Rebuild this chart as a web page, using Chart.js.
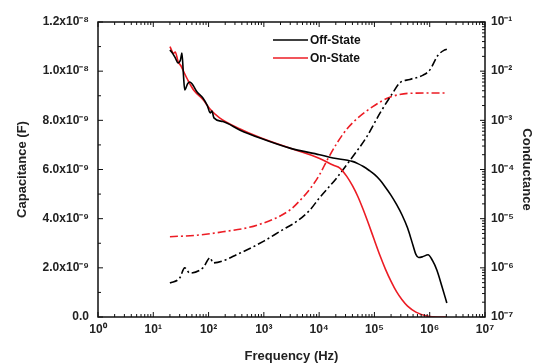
<!DOCTYPE html>
<html>
<head>
<meta charset="utf-8">
<script src="https://cdn.jsdelivr.net/npm/chart.js@4.4.1/dist/chart.umd.min.js"></script>
<style>
  html, body { margin: 0; padding: 0; background: #fff; }
  #wrap { width: 535px; height: 363px; }
</style>
</head>
<body>
<div id="wrap"><canvas id="cvChart"></canvas></div>
<script>
// capacitance (F) vs frequency (Hz)
const offCapFreq = [20, 22, 25, 28, 31, 33, 35, 37, 42, 46, 52, 62, 79, 95, 107, 115, 125, 182, 372, 850,
    2950, 10200, 17800, 39800, 50100, 63100, 79400, 100000, 126000, 158000, 200000, 251000, 316000, 398000,
    501000, 562000, 631000, 741000, 933000, 1120000, 1350000, 1660000, 2040000];
const offCap = [1.086e-8, 1.075e-8, 1.054e-8, 1.033e-8, 1.045e-8, 1.074e-8, 9.9e-9, 9.24e-9, 9.5e-9, 9.56e-9,
    9.44e-9, 9.15e-9, 8.91e-9, 8.6e-9, 8.3e-9, 8.38e-9, 8.1e-9, 7.95e-9, 7.6e-9, 7.28e-9,
    6.87e-9, 6.6e-9, 6.47e-9, 6.33e-9, 6.24e-9, 6.12e-9, 5.97e-9, 5.8e-9, 5.57e-9, 5.28e-9, 4.95e-9, 4.58e-9, 4.15e-9, 3.62e-9,
    2.9e-9, 2.55e-9, 2.42e-9, 2.45e-9, 2.53e-9, 2.3e-9, 1.9e-9, 1.25e-9, 5.7e-10];

const onCapFreq = [20, 21, 23, 25, 28, 32, 36, 43, 55, 79, 107, 158, 372, 850, 2950, 10200, 17800, 24000, 31600, 39800,
    50100, 63100, 79400, 100000, 126000, 158000, 200000, 251000, 316000, 398000, 562000, 891000, 1410000, 2040000];
const onCap = [1.10e-8, 1.09e-8, 1.072e-8, 1.078e-8, 1.04e-8, 1.02e-8, 9.95e-9, 9.6e-9, 9.2e-9, 8.85e-9,
    8.45e-9, 8.1e-9, 7.65e-9, 7.3e-9, 6.87e-9, 6.45e-9, 6.18e-9, 6.05e-9, 5.72e-9, 5.35e-9,
    4.9e-9, 4.35e-9, 3.75e-9, 3.12e-9, 2.5e-9, 1.95e-9, 1.45e-9, 1.03e-9, 7.0e-10, 4.4e-10, 2.0e-10, 4e-11, 0, 0];

// conductance vs frequency (Hz)
const offCondFreq = [20, 30, 37, 46, 79, 107, 120, 372, 1000, 2000, 4000, 6800, 10000, 20900, 36300,
    72400, 126000, 214000, 288000, 437000, 759000, 1000000, 1410000, 1860000, 2040000];
const offCond = [4.9e-7, 6.2e-7, 1.0e-6, 7.8e-7, 1.0e-6, 1.6e-6, 1.26e-6, 2.0e-6, 3.5e-6, 5.6e-6,
    8.9e-6, 1.5e-5, 2.6e-5, 6.8e-5, 1.55e-4, 4.6e-4, 1.4e-3, 3.6e-3, 5.8e-3, 6.8e-3,
    8.3e-3, 1.05e-2, 2.1e-2, 2.7e-2, 2.8e-2];

const onCondFreq = [20, 60, 182, 760, 2950, 4900, 6800, 10000, 14100, 20900, 31600, 47900, 93300, 190000, 437000, 1000000, 2040000];
const onCond = [4.3e-6, 4.6e-6, 5.4e-6, 7.4e-6, 1.5e-5, 2.6e-5, 4.0e-5, 7.6e-5, 1.58e-4, 3.4e-4, 6.6e-4, 1.07e-3, 1.9e-3, 2.95e-3, 3.55e-3, 3.6e-3, 3.6e-3];

const seriesNames = ['Off-State', 'On-State'];
const xTicks = [1, 10, 100, 1e3, 1e4, 1e5, 1e6, 1e7];
const y2Ticks = [1e-7, 1e-6, 1e-5, 1e-4, 1e-3, 1e-2, 1e-1];

const RED = 'rgb(236, 28, 36)';
const BLACK = '#000';

const SUP = { '0': '⁰', '1': '¹', '2': '²', '3': '³', '4': '⁴', '5': '⁵', '6': '⁶', '7': '⁷', '8': '⁸', '9': '⁹', '-': '⁻' };
const sup = s => String(s).split('').map(c => SUP[c] || c).join('');
const isPow10 = v => Math.abs(Math.log10(v) - Math.round(Math.log10(v))) < 1e-6;
const pow10Label = v => isPow10(v) ? '10' + sup(Math.round(Math.log10(v))) : '';

function capLabel(v) {
    if (Math.abs(v) < 1e-13) return '0.0';
    const e = Math.floor(Math.log10(v) + 1e-9);
    const m = v / Math.pow(10, e);
    return m.toFixed(1) + 'x10' + sup(e);
}

const pts = (xs, ys) => xs.map((x, i) => ({ x: x, y: ys[i] }));

Chart.defaults.font.family = 'Arial, "Liberation Sans", sans-serif';
Chart.defaults.color = '#222';

// inward ticks on all four sides plus the frame, and the small legend
const frameTicks = {
    id: 'frameTicks',
    afterDraw(chart) {
        const { ctx, chartArea: a, scales } = chart;
        ctx.save();
        ctx.strokeStyle = '#111';
        ctx.lineWidth = 1;
        ctx.beginPath();
        const logMarks = (sc, fn) => {
            const lo = Math.round(Math.log10(sc.min)), hi = Math.round(Math.log10(sc.max));
            for (let e = lo; e <= hi; e++) {
                for (let m = 1; m <= 9; m++) {
                    const v = m * Math.pow(10, e);
                    if (v > sc.max * 1.0001) break;
                    fn(sc.getPixelForValue(v), m === 1 ? 5 : 3);
                }
            }
        };
        logMarks(scales.x, (px, len) => {
            ctx.moveTo(px, a.bottom); ctx.lineTo(px, a.bottom - len);
            ctx.moveTo(px, a.top); ctx.lineTo(px, a.top + len);
        });
        logMarks(scales.y2, (py, len) => {
            ctx.moveTo(a.right, py); ctx.lineTo(a.right - len, py);
        });
        const sy = scales.y;
        for (let i = 0; i <= 12; i++) {
            const py = sy.getPixelForValue(sy.min + i * (sy.max - sy.min) / 12);
            const len = i % 2 === 0 ? 5 : 3;
            ctx.moveTo(a.left, py); ctx.lineTo(a.left + len, py);
        }
        ctx.stroke();
        ctx.lineWidth = 1.5;
        ctx.strokeRect(a.left, a.top, a.right - a.left, a.bottom - a.top);

        // legend
        const lx = a.left + 175, ly = a.top + 18;
        ctx.font = 'bold 12px Arial, "Liberation Sans", sans-serif';
        ctx.textBaseline = 'middle';
        chart.data.datasets.slice(0, 2).forEach((ds, i) => {
            const y = ly + i * 18;
            ctx.strokeStyle = ds.borderColor;
            ctx.lineWidth = 1.6;
            ctx.beginPath();
            ctx.moveTo(lx, y); ctx.lineTo(lx + 35, y);
            ctx.stroke();
            ctx.fillStyle = '#111';
            ctx.fillText(ds.label, lx + 37, y + 1);
        });
        ctx.restore();
    }
};

new Chart(document.getElementById('cvChart'), {
    type: 'line',
    data: {
        datasets: [
            { label: seriesNames[0], data: pts(offCapFreq, offCap), yAxisID: 'y', borderColor: BLACK, borderWidth: 1.6 },
            { label: seriesNames[1], data: pts(onCapFreq, onCap), yAxisID: 'y', borderColor: RED, borderWidth: 1.6 },
            { label: seriesNames[0] + ' G', data: pts(offCondFreq, offCond), yAxisID: 'y2', borderColor: BLACK, borderWidth: 1.6, borderDash: [8, 3, 2, 3] },
            { label: seriesNames[1] + ' G', data: pts(onCondFreq, onCond), yAxisID: 'y2', borderColor: RED, borderWidth: 1.6, borderDash: [8, 3, 2, 3] }
        ]
    },
    options: {
        responsive: true,
        maintainAspectRatio: false,
        animation: false,
        layout: { padding: { top: 22 } },
        elements: {
            point: { radius: 0 },
            line: { cubicInterpolationMode: 'monotone', fill: false }
        },
        plugins: {
            legend: { display: false },
            tooltip: { enabled: false }
        },
        scales: {
            x: {
                type: 'logarithmic',
                min: 1,
                max: 1e7,
                afterFit: s => { s.height = 46; },
                afterBuildTicks: s => { s.ticks = xTicks.map(v => ({ value: v })); },
                grid: { display: false, drawTicks: false },
                border: { display: false },
                ticks: {
                    autoSkip: false, maxRotation: 0, padding: 5,
                    font: { size: 12, weight: 'bold' },
                    callback: v => pow10Label(v)
                },
                title: { display: true, text: 'Frequency (Hz)', font: { size: 13, weight: 'bold' }, padding: { top: 0, bottom: -1 } }
            },
            y: {
                type: 'linear',
                position: 'left',
                min: 0,
                max: 1.2e-8,
                afterFit: s => { s.width = 98; },
                grid: { display: false, drawTicks: false },
                border: { display: false },
                ticks: {
                    stepSize: 2e-9, padding: 9,
                    font: { size: 12, weight: 'bold' },
                    callback: v => capLabel(v)
                },
                title: { display: true, text: 'Capacitance (F)', font: { size: 13, weight: 'bold' }, padding: { top: 15, bottom: 0 } }
            },
            y2: {
                type: 'logarithmic',
                position: 'right',
                min: 1e-7,
                max: 1e-1,
                afterFit: s => { s.width = 50; },
                afterBuildTicks: s => { s.ticks = y2Ticks.map(v => ({ value: v })); },
                grid: { display: false, drawTicks: false },
                border: { display: false },
                ticks: {
                    autoSkip: false, padding: 6,
                    font: { size: 12, weight: 'bold' },
                    callback: v => pow10Label(v)
                },
                title: { display: true, text: 'Conductance', font: { size: 13, weight: 'bold' }, padding: { top: 1, bottom: 0 } }
            }
        }
    },
    plugins: [frameTicks]
});
</script>
</body>
</html>
